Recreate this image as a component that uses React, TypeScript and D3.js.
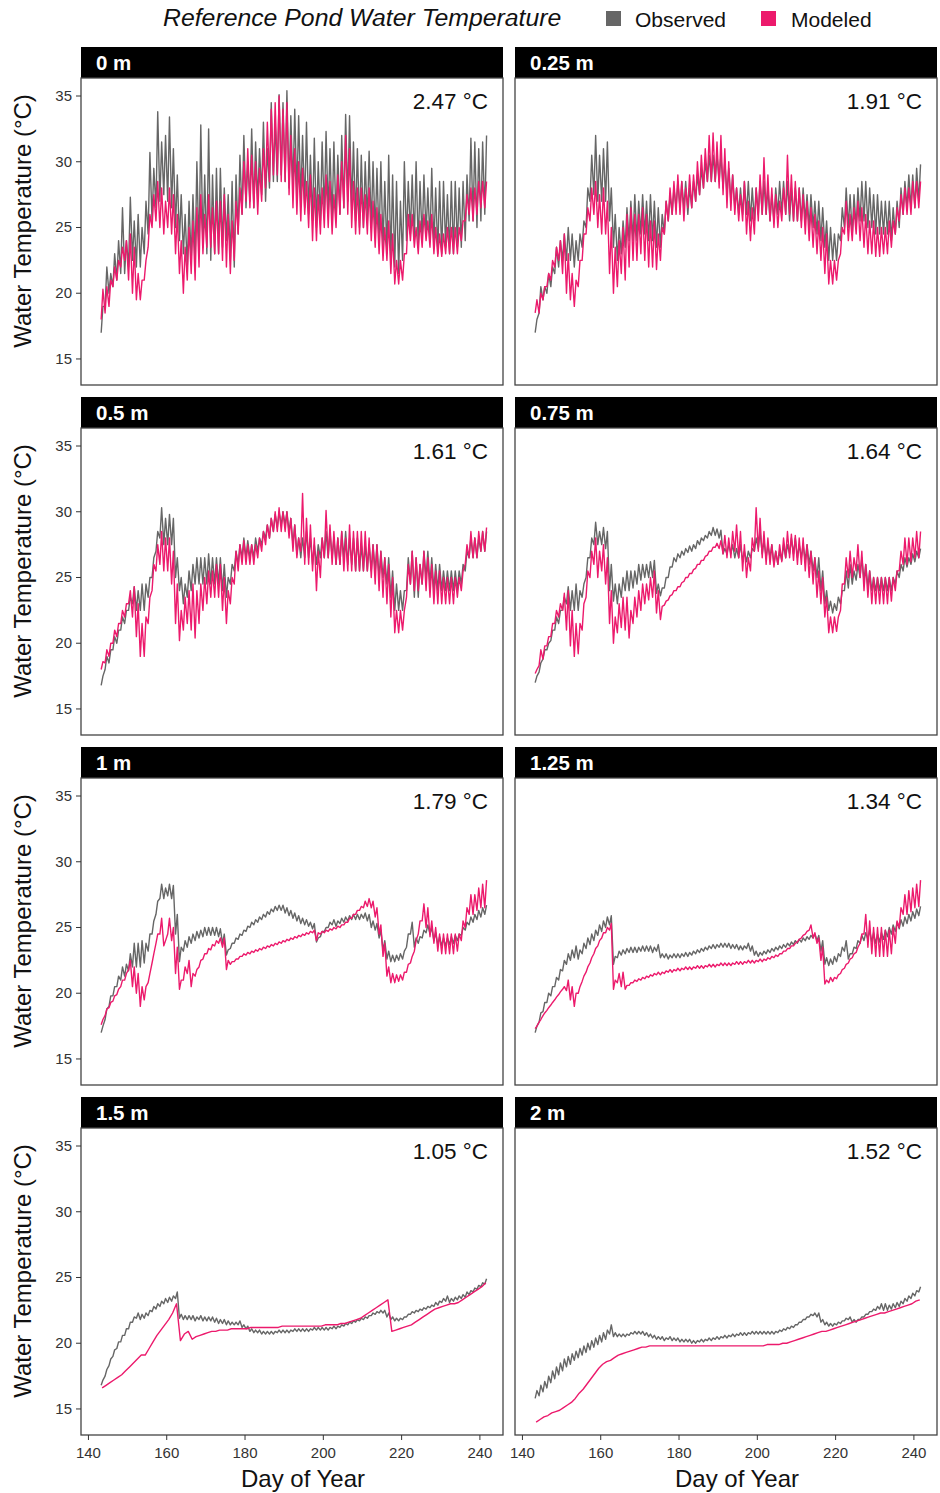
import * as d3 from 'd3';

// day-of-year of the first value in every series below (one value per day, 143..241)
const FIRST_DAY = 143;

const depthLabels = ['0 m', '0.25 m', '0.5 m', '0.75 m', '1 m', '1.25 m', '1.5 m', '2 m'];
const rmseLabels = ['2.47 °C', '1.91 °C', '1.61 °C', '1.64 °C', '1.79 °C', '1.34 °C', '1.05 °C', '1.52 °C'];
const xTicks = [140, 160, 180, 200, 220, 240];
const yTicks = [15, 20, 25, 30, 35];

// daily low / high, observed (grey) and modeled (pink)
const obs0Hi = [
  19, 22, 21.5, 23, 24, 26.5, 24, 27.3, 25.5, 26,
  25, 27, 30.7, 29.5, 33.8, 31.5, 32, 33.4, 31, 29,
  27.5, 26, 27, 27.5, 30, 32.8, 29, 32.5, 29, 29.5,
  29.5, 28, 27.5, 28.5, 29, 30.5, 32, 30, 32.5, 31.5,
  31, 33, 31, 34.5, 33, 35.1, 34.5, 35.4, 33.5, 34,
  33.5, 32, 33, 30.5, 31.8, 30, 31.5, 32.3, 31, 31.5,
  30.5, 32, 33.6, 33.5, 31.5, 31, 30.5, 30, 30.8, 30,
  29.5, 30, 28.5, 30.5, 29, 28.5, 27, 30, 28.5, 29,
  30, 28.5, 29, 28, 29.5, 28, 28.5, 28.5, 27.5, 28.5,
  28.5, 28, 28.5, 29, 31.8, 31.5, 31, 31.5, 32,
];
const obs0Lo = [
  17, 19, 20, 20.5, 21, 21.5, 21.5, 22, 22.5, 22,
  22, 23, 24.5, 25.5, 26.5, 27, 27.5, 27, 26.5, 25,
  24, 23, 22, 22.5, 22.5, 23, 23.5, 23, 22.5, 23,
  23, 23.5, 24, 22.5, 22, 24.5, 26, 26.5, 27, 26.5,
  27, 27.5, 27, 28, 28.5, 28.5, 29, 28.5, 28, 28,
  27.5, 27, 26.5, 26, 25.5, 25, 25.5, 26, 26, 25.5,
  25.5, 26, 26.5, 27, 26.5, 25.5, 25, 25, 25.5, 25,
  24.5, 24, 23.5, 23, 22.5, 22, 21.5, 22.5, 24, 24.5,
  24, 23.5, 24, 24.5, 24, 23.5, 23, 23, 23.5, 23,
  23, 23.5, 23.5, 24, 25.5, 25.5, 25, 25.5, 26,
];
const mod0Hi = [
  20.3, 20.5, 21, 22, 22.5, 23.5, 24, 24.5, 23.5, 21.5,
  21, 22.5, 26, 27.5, 28.5, 28, 27, 28, 27.5, 26,
  24, 23.5, 25, 25.5, 26.5, 27.5, 26, 27.5, 26.5, 27,
  27, 27.5, 26, 25.5, 27, 28, 30, 31, 30.5, 30,
  29.5, 31, 33, 34, 34.5, 35, 34, 34.5, 32, 31,
  30, 29.5, 28.5, 29, 28, 27.5, 28, 29, 28.5, 27.5,
  29, 30, 32, 31, 28.5, 28, 28, 27.5, 28, 27,
  26.5, 26, 25, 25.5, 24.5, 22.5, 22.5, 23, 26, 26,
  25, 25.5, 26, 25.5, 26, 25, 24.5, 24.5, 25, 25,
  25, 25, 25.5, 27.5, 28, 28, 28.5, 28.5, 28.5,
];
const mod0Lo = [
  18, 18.5, 19, 20.5, 21, 22, 22.5, 21, 20, 19.5,
  19.5, 21, 23.5, 25, 25.5, 25, 24.5, 25, 24.5, 23,
  21.5, 20, 21, 21.5, 21, 22, 23, 23.5, 23.5, 23,
  23, 22.5, 22, 21.5, 22.5, 24.5, 26, 27, 26.5, 26.5,
  26, 27, 28, 28.5, 29, 29, 28.5, 28.5, 27.5, 26.5,
  26, 25.5, 26, 25, 24, 24, 24.5, 25, 25, 24.5,
  25, 26, 26.5, 26, 25, 24.5, 24.5, 25, 24.5, 24,
  23.5, 23, 22.5, 22.5, 21.5, 20.7, 20.7, 21, 23, 24,
  23.5, 23, 23.5, 24, 23.5, 23, 22.8, 22.8, 23, 23,
  23, 23, 24, 25.5, 26, 25.5, 26, 26.5, 26.5,
];

const obs25Hi = [
  18, 20.5, 20.5, 21.5, 22, 23.5, 24, 24.5, 25, 24.5,
  24, 24.5, 25.5, 28, 30.5, 32, 30.5, 31, 31.5, 28,
  26, 25, 25.5, 26.5, 27, 27.5, 27, 27.5, 27, 27.5,
  27, 26.5, 26, 27, 27.5, 28, 28.5, 28.5, 28.5, 28,
  28.5, 29, 29.5, 30, 30.5, 30.5, 30.5, 30.5, 30, 29.5,
  29, 28, 28, 28.5, 28.5, 28, 28, 28.5, 28.5, 28,
  27.5, 28, 28.5, 28.5, 28.5, 28, 28, 28, 28, 27.5,
  27.5, 27, 27, 26.5, 25.5, 25, 24.5, 24.5, 26.5, 28,
  27.5, 27.5, 28, 28.5, 28.5, 28, 27.5, 27.5, 27, 27,
  27, 26.5, 27, 28, 28.5, 29, 29, 29.5, 29.8,
];
const obs25Lo = [
  17, 18.5, 19.5, 20, 20.5, 21.5, 22, 22.5, 22.5, 22.5,
  22, 22.5, 23.5, 25, 27, 27.5, 27, 27, 27, 25.5,
  23.5, 22.5, 23, 23.5, 24, 24, 24, 24.5, 24.5, 24,
  24, 23.5, 23.5, 24.5, 25.5, 26, 26.5, 26.5, 26.5, 26,
  26.5, 27, 27.5, 28, 28.5, 28.5, 28.5, 28.5, 28, 27.5,
  27, 26.5, 26, 26, 26, 25.5, 25.5, 26, 26, 26,
  25.5, 25.5, 26, 26, 26, 25.5, 25.5, 25.5, 25.5, 25.5,
  25, 25, 24.5, 24, 23.5, 22.5, 22.5, 22.5, 24, 25,
  25, 24.5, 25, 25.5, 25.5, 25, 25, 24.5, 24.5, 24.5,
  24.5, 24, 24.5, 25, 26, 26.5, 26.5, 26.5, 27,
];
const mod25Hi = [
  19.5, 20, 20.5, 21.5, 22.5, 23.5, 24, 24.5, 23, 21.5,
  21, 22.5, 24.5, 26.5, 28, 28.5, 27.5, 28, 27, 25,
  23.5, 24, 25, 26, 26.5, 26, 26, 26.5, 26, 25.5,
  25.5, 24.5, 25, 27, 28, 28.5, 29, 28.5, 28, 29,
  29, 30, 30.5, 31, 32, 32.2, 31.5, 32, 31, 30,
  29, 28, 27.5, 28.5, 27, 26.5, 28, 29, 30.3, 29,
  28, 27.5, 27, 28, 30.5, 29, 28.5, 28, 27.5, 27,
  26.5, 26, 25.5, 25, 24.5, 22.5, 22.5, 22.5, 25, 27,
  26, 26.5, 27, 26.5, 26, 25.5, 25.5, 25, 25, 25,
  25.5, 25.5, 26.5, 27.5, 28, 28, 28.5, 28.5, 28.5,
];
const mod25Lo = [
  18.5, 18.5, 19.5, 20.5, 21, 22, 22.5, 21.5, 20, 19.5,
  19, 20.5, 22.5, 24.5, 25.5, 26, 25, 24.5, 24.5, 21.5,
  20, 20.5, 21.5, 21, 22, 22.5, 22.5, 23, 22.5, 22,
  22, 21.8, 22.5, 24.5, 25.5, 26, 26, 26, 25.5, 26.5,
  26.5, 27, 27.5, 28, 28.5, 28.5, 28.5, 28, 27.5, 26.5,
  26.3, 26, 25.5, 25.5, 24.5, 24, 24.5, 25.5, 26, 26,
  25.5, 25, 25, 25.5, 26, 26, 25.5, 25.5, 25, 24.5,
  24, 23.5, 23, 22.5, 21.5, 20.7, 20.7, 21, 23, 24.5,
  24, 24, 24.5, 24, 23.5, 23, 23, 22.8, 22.8, 23,
  23, 23.5, 24.5, 25.5, 26, 26, 26, 26.5, 26.5,
];

const obs50Hi = [
  17.5, 19, 19.5, 20.5, 21, 22, 22.5, 23.5, 24.3, 24,
  24.5, 24.5, 25, 26.5, 28.5, 30.3, 29.5, 29.8, 29.5, 26.5,
  25, 24.5, 25.5, 26, 26.5, 26.5, 26.5, 26.8, 26.5, 26.5,
  26.5, 26, 25, 26, 27, 27.5, 28, 27.8, 27.5, 28,
  28, 28.5, 29, 29.5, 29.8, 30, 30, 30, 29.5, 29,
  28, 28, 28.5, 28, 27.5, 27.5, 28, 28.5, 28.5, 28,
  28, 28.5, 28.5, 28, 28, 28, 27.5, 27.5, 27.5, 27.5,
  27.5, 27, 26.5, 26.5, 25.5, 24.5, 24, 24, 26.5, 27,
  26.5, 26, 27, 27, 26.5, 26, 26, 25.5, 25.5, 25.5,
  25.5, 25.5, 26, 27, 28, 28, 28, 28.5, 28.5,
];
const obs50Lo = [
  16.8, 18, 18.5, 19.5, 20, 21, 21.5, 22.5, 23, 22.5,
  22.5, 22.5, 23.5, 25, 27, 28, 27.5, 27.5, 27.5, 25,
  24, 23, 23.5, 24, 24.5, 24.5, 24.5, 24.5, 24.5, 24.5,
  24.5, 24, 23.5, 24.5, 25.5, 26, 26.5, 26.5, 26.5, 26.5,
  27, 27.5, 28, 28, 28.5, 28.8, 29, 29, 28.5, 27.5,
  26.8, 26.5, 26.5, 26.5, 26, 26, 26.5, 26.5, 26.5, 26.5,
  26, 26, 26.5, 26, 26, 25.5, 25.5, 25.5, 25.5, 25.5,
  25.5, 25, 25, 24.5, 23.5, 22.5, 22.5, 22.5, 24, 24.5,
  23.5, 23.5, 24.5, 25, 24.5, 24, 24, 24, 24, 24,
  24, 24, 24.5, 25.5, 26.5, 26.5, 26.5, 27, 27,
];
const mod50Hi = [
  18.6, 19.5, 20, 21, 21.5, 22.5, 23, 24, 24.3, 23,
  21.5, 22, 23.5, 26, 27.5, 28.5, 28, 28, 27, 24.5,
  22.5, 23.5, 24, 24.5, 24, 24.5, 25, 25.5, 25.5, 26,
  26, 25, 24, 25, 27, 27.5, 27.8, 27.5, 27.5, 27.5,
  28, 28.5, 29, 29.5, 30, 30.3, 30, 30, 29.5, 29,
  28, 31.4, 29.5, 29, 28, 27, 28, 30.1, 29, 28.5,
  28, 28.5, 28, 29, 28.5, 28.5, 28.5, 28.5, 28, 27.5,
  27.5, 27, 26.5, 26, 25, 22.5, 22.5, 22.5, 26, 27,
  26.5, 26, 27, 26.5, 26, 25.5, 25.5, 25, 25, 25,
  25, 25, 25.5, 27.5, 28.5, 28, 28.5, 28.5, 28.8,
];
const mod50Lo = [
  18, 18.5, 19, 20, 20.5, 21.5, 22, 23, 22, 20.5,
  19, 19, 21.5, 24, 25.5, 26, 25.5, 25.5, 24.5, 21.5,
  20.2, 21, 21.5, 21, 20.4, 21.5, 22.5, 23, 23.5, 23.5,
  23.5, 22.5, 21.5, 23, 24.5, 25.5, 26, 26, 26, 26,
  26.5, 27, 27.5, 28, 28.5, 28.5, 28.5, 28.5, 28, 27,
  26.5, 27, 26, 26, 25.5, 24, 25, 26.5, 26.5, 26,
  26, 26, 25.5, 25.5, 25.5, 25.5, 25.5, 25.5, 25.5, 25,
  24.5, 24, 23.5, 23, 22, 20.8, 20.8, 21, 23.5, 24.5,
  24, 24, 24.5, 24, 23.5, 23, 23, 23, 23, 23,
  23, 23.5, 24, 26, 26.5, 26.5, 26.5, 27, 27,
];

const obs75Hi = [
  17.5, 18.5, 19.5, 20, 21, 22, 22.5, 23.5, 24.3, 24,
  24.5, 24, 24.5, 26.5, 28, 29.2, 28.5, 28.8, 28.5, 26,
  24.5, 24.5, 25, 25.5, 25.5, 25.5, 26, 26, 26, 26.2,
  26.3, 24.5, 24.2, 25, 25.8, 26.5, 26.8, 27, 27.2, 27.4,
  27.5, 27.8, 28, 28.2, 28.5, 28.8, 28.7, 28.6, 27.2, 27.5,
  27.5, 27.2, 27.5, 27, 27, 27.2, 28, 28.5, 27.8, 27.5,
  27.5, 27, 27, 27.5, 27.5, 28, 28, 27.5, 27.5, 27.5,
  27, 26.5, 26.5, 25.5, 24, 23.2, 23, 23.5, 24, 25.5,
  26, 25.5, 26, 26.5, 26, 25.5, 25, 25, 25, 25,
  25, 25, 25.5, 26, 26.5, 26.5, 26.8, 27, 27.2,
];
const obs75Lo = [
  17, 17.8, 18.8, 19.5, 20.2, 21, 21.5, 22.5, 23, 22.5,
  22.5, 22.5, 23.5, 25, 26.5, 27.5, 27.5, 27.5, 27.2, 24,
  23.2, 23, 23.5, 24, 24, 24.2, 24.5, 24.8, 25, 25,
  25, 23.8, 23.6, 24.2, 25, 25.8, 26.2, 26.5, 26.7, 26.9,
  27, 27.2, 27.5, 27.8, 28, 28.2, 28.2, 28, 26.8, 26.8,
  26.8, 26.5, 26.5, 26.3, 26.2, 26.5, 27, 27.2, 26.8, 26.5,
  26.5, 26, 26, 26.3, 26.5, 26.8, 26.8, 26.5, 26.5, 26.3,
  26, 25.5, 25, 24, 23, 22.5, 22.3, 22.5, 23, 24,
  24.2, 24.5, 24.8, 25, 24.8, 24.3, 24, 24, 24, 24,
  24, 24, 24.5, 25, 25.5, 25.8, 26, 26.2, 26.5,
];
const mod75Hi = [
  18, 19.5, 19.8, 20.5, 21.5, 22.5, 23, 23.8, 24, 22.5,
  21.5, 21.5, 23, 25.5, 27, 28, 27, 27.5, 26.5, 24,
  22, 23, 23.5, 23.5, 22.5, 23.5, 24, 24.5, 24.5, 25,
  25.5, 24, 22.8, 23.2, 23.6, 24, 24.3, 24.6, 25, 25.3,
  25.6, 26, 26.3, 26.6, 27, 27.3, 27.6, 27.8, 28.2, 28,
  28.5, 29, 28.5, 27.5, 26.5, 28, 30.3, 29.5, 28.5, 28,
  27.5, 27, 27.5, 28, 28.5, 28.3, 28.2, 28, 28, 27.5,
  27, 26.5, 25.5, 25, 23.5, 22, 22, 22, 24.5, 26.5,
  27, 26.5, 27.5, 27, 26, 25.5, 25, 25, 25, 25,
  25, 25, 25.5, 27, 28, 28, 28, 28.5, 28.5,
];
const mod75Lo = [
  17.7, 18.3, 18.8, 19.8, 20.5, 21.5, 22, 22.5, 21, 19.8,
  19, 19.2, 21, 23.5, 25, 26, 25, 25.5, 24.5, 21.5,
  20, 20.8, 21.2, 21, 20.4, 21.5, 22, 22.5, 23, 23.3,
  23.5, 22.3, 21.8, 22.9, 23.3, 23.7, 24, 24.3, 24.7, 25,
  25.3, 25.7, 26, 26.3, 26.7, 27, 27.3, 27.2, 26.8, 26.5,
  26.5, 27, 26.5, 25.5, 25, 25.5, 27, 27, 26.5, 26,
  26, 25.8, 26, 26.2, 26.5, 26.5, 26.3, 26, 26, 25.5,
  25, 24.5, 23.5, 23, 22, 20.8, 20.8, 20.9, 22.5, 24.5,
  25, 25, 25.5, 25, 24, 23.5, 23, 23, 23, 23,
  23, 23.2, 24, 25.5, 26, 26, 26.2, 26.5, 26.5,
];

const obs100Hi = [
  17.5, 18.8, 19.8, 20.5, 21.3, 22, 22.2, 23, 23.8, 23.8,
  24, 23.8, 24.5, 25.5, 27, 28.3, 28, 28.3, 28.2, 26,
  23.5, 24, 24.3, 24.5, 24.7, 24.8, 25, 25, 25, 25,
  24.9, 24.5, 23.3, 23.8, 24.2, 24.5, 24.8, 25.1, 25.4, 25.6,
  25.8, 26, 26.2, 26.4, 26.6, 26.7, 26.7, 26.5, 26.3, 26.1,
  25.9, 25.7, 25.6, 25.4, 25.3, 24.2, 24.7, 25, 25.4, 25.6,
  25.5, 25.7, 25.8, 25.9, 26, 26, 26, 26.1, 26, 25.5,
  25.3, 24.8, 24, 23.2, 22.9, 22.9, 23, 23.2, 24.5, 25.4,
  24.2, 24.3, 24.8, 25.2, 25, 24.6, 24.3, 24.2, 24.2, 24.3,
  24.4, 24.5, 25, 25.4, 25.8, 26, 26.3, 26.5, 26.7,
];
const obs100Lo = [
  17, 18, 19, 19.8, 20.5, 21, 21.3, 21.7, 22, 22,
  22, 22.3, 23.2, 24.5, 26, 27.2, 27.2, 27.4, 27.2, 24.5,
  22.4, 23.2, 23.5, 23.8, 24, 24.2, 24.3, 24.4, 24.4, 24.4,
  24.3, 23.8, 22.9, 23.4, 23.8, 24.1, 24.4, 24.7, 25, 25.2,
  25.4, 25.6, 25.8, 26, 26.2, 26.3, 26.3, 26.1, 25.9, 25.7,
  25.5, 25.3, 25.2, 25.1, 24.9, 23.9, 24.3, 24.7, 25, 25.2,
  25.1, 25.3, 25.4, 25.5, 25.6, 25.6, 25.6, 25.7, 25.5, 25,
  24.8, 24.2, 23.3, 22.6, 22.4, 22.4, 22.5, 22.6, 23.5, 24.5,
  23.5, 23.8, 24.2, 24.6, 24.5, 24, 23.7, 23.6, 23.6, 23.7,
  23.8, 24, 24.4, 24.8, 25.2, 25.4, 25.6, 25.8, 26,
];
const mod100Hi = [
  18, 18.8, 19.3, 19.8, 20.3, 21, 21.5, 22.5, 22, 21.5,
  20.5, 20.5, 21.5, 23, 24.5, 25.7, 24, 25.7, 25, 23.5,
  21, 22, 22.5, 21.5, 21.8, 22.5, 23, 23.4, 23.7, 24,
  24.2, 24.2, 22.5, 22.4, 22.6, 22.8, 23, 23.1, 23.2, 23.3,
  23.4, 23.5, 23.6, 23.7, 23.8, 23.9, 24, 24.1, 24.2, 24.3,
  24.4, 24.5, 24.6, 24.7, 24.8, 24.6, 24.7, 24.8, 24.9, 25,
  25.1, 25.2, 25.4, 25.7, 26, 26.3, 26.6, 27, 27.2, 27,
  26.5, 25.2, 23.8, 22, 21.5, 21.4, 21.4, 21.6, 22.2, 22.8,
  24, 25.5, 26.8, 26.5, 25.5, 25, 24.5, 24.5, 24.5, 24.5,
  24.5, 24.5, 25.5, 26.5, 27.5, 27.5, 28, 28.3, 28.6,
];
const mod100Lo = [
  17.6, 18.3, 18.9, 19.4, 19.9, 20.5, 21, 21.8, 20.5, 20,
  19, 19.5, 20.8, 22.3, 23.8, 24.5, 23.6, 24.5, 24, 21.5,
  20.3, 21, 21.5, 20.5, 21.3, 22, 22.6, 23, 23.3, 23.6,
  23.8, 23.5, 21.8, 22.2, 22.4, 22.6, 22.8, 22.9, 23, 23.1,
  23.2, 23.3, 23.4, 23.5, 23.6, 23.7, 23.8, 23.9, 24, 24.1,
  24.2, 24.3, 24.4, 24.5, 24.6, 24, 24.5, 24.6, 24.7, 24.8,
  24.9, 25, 25.2, 25.4, 25.7, 26, 26.3, 26.5, 26.6, 26.5,
  25.8, 24.5, 22.8, 21.3, 20.8, 20.8, 20.9, 21, 21.6, 22.3,
  23.2, 24.5, 25.5, 25, 24.3, 23.8, 23.2, 23, 23, 23,
  23, 23.2, 24, 25, 26, 26, 26.3, 26.5, 26.5,
];

const obs125Hi = [
  17.5, 18.5, 19.3, 20, 20.5, 21.2, 21.8, 22.5, 23, 23.3,
  23.6, 23.3, 23.8, 24.2, 24.5, 24.8, 25.2, 25.5, 25.8, 25.9,
  22.8, 23.2, 23.3, 23.4, 23.5, 23.5, 23.5, 23.6, 23.6, 23.6,
  23.5, 23.7, 23, 23, 22.9, 23, 23, 23, 23.1, 23.1,
  23.2, 23.3, 23.4, 23.5, 23.6, 23.7, 23.7, 23.8, 23.8, 23.8,
  23.7, 23.7, 23.6, 23.6, 23.8, 23.6, 23.2, 23.1, 23.2, 23.3,
  23.4, 23.5, 23.6, 23.7, 23.8, 23.9, 24, 24.1, 24.2, 24.3,
  24.4, 24.5, 24.4, 24, 22.7, 22.6, 22.8, 23, 23.5, 24,
  23, 23.5, 24, 24.4, 24.6, 24.8, 24.6, 24.5, 24.6, 24.8,
  25, 25.2, 25.4, 25.6, 25.8, 26, 26.2, 26.4, 26.6,
];
const obs125Lo = [
  17, 17.8, 18.6, 19.3, 19.8, 20.5, 21, 21.7, 22.2, 22.5,
  22.7, 22.6, 23, 23.4, 23.7, 24, 24.4, 24.7, 25, 25.2,
  22.2, 22.7, 22.9, 23, 23.1, 23.1, 23.1, 23.2, 23.2, 23.2,
  23.1, 23.2, 22.7, 22.7, 22.6, 22.7, 22.7, 22.7, 22.8, 22.8,
  22.9, 23, 23.1, 23.2, 23.3, 23.4, 23.4, 23.5, 23.5, 23.5,
  23.4, 23.4, 23.3, 23.3, 23.4, 23.2, 22.9, 22.8, 22.9, 23,
  23.1, 23.2, 23.3, 23.4, 23.5, 23.6, 23.7, 23.8, 23.9, 24,
  24.1, 24.2, 24, 23.2, 22.2, 22.1, 22.2, 22.4, 22.8, 23.2,
  22.6, 23, 23.4, 23.8, 24, 24.1, 23.9, 23.8, 23.9, 24.1,
  24.3, 24.5, 24.7, 24.9, 25.1, 25.3, 25.5, 25.7, 25.9,
];
const mod125Hi = [
  17.5, 18, 18.5, 18.9, 19.3, 19.7, 20.1, 20.5, 21, 20.5,
  20, 20.5, 21.3, 22, 22.7, 23.4, 24, 24.6, 25, 25.3,
  21, 21.5, 21.6, 20.6, 20.8, 21, 21.1, 21.2, 21.3, 21.4,
  21.5, 21.6, 21.6, 21.7, 21.8, 21.8, 21.9, 21.9, 22, 22,
  22, 22.1, 22.1, 22.1, 22.2, 22.2, 22.2, 22.3, 22.3, 22.3,
  22.3, 22.4, 22.4, 22.4, 22.5, 22.5, 22.5, 22.6, 22.6, 22.7,
  22.8, 22.9, 23, 23.2, 23.4, 23.6, 23.8, 24.1, 24.4, 24.7,
  25.2, 24.6, 24.2, 23.5, 21, 21.2, 21.2, 21.4, 21.8, 22.2,
  22.6, 23, 23.5, 24.5, 26, 25.5, 25, 25, 25, 24.8,
  24.8, 25, 25.5, 26.5, 27.5, 27.8, 28, 28.3, 28.6,
];
const mod125Lo = [
  17.3, 17.8, 18.3, 18.7, 19.1, 19.5, 19.9, 20.3, 20.2, 19.5,
  19, 20, 20.9, 21.6, 22.3, 23, 23.6, 24.2, 24.6, 24.8,
  20.3, 20.8, 20.5, 20.3, 20.6, 20.8, 20.9, 21, 21.1, 21.2,
  21.3, 21.4, 21.4, 21.5, 21.6, 21.6, 21.7, 21.7, 21.8, 21.8,
  21.8, 21.9, 21.9, 21.9, 22, 22, 22, 22.1, 22.1, 22.1,
  22.1, 22.2, 22.2, 22.2, 22.3, 22.3, 22.3, 22.4, 22.4, 22.5,
  22.6, 22.7, 22.8, 23, 23.2, 23.4, 23.6, 23.9, 24.2, 24.5,
  24.8, 24.2, 23.8, 22.5, 20.7, 20.8, 20.9, 21.1, 21.5, 21.9,
  22.3, 22.7, 23.1, 23.8, 24.5, 23.5, 23, 22.8, 22.8, 22.8,
  22.8, 23, 23.8, 25, 26, 26, 26.2, 26.5, 26.6,
];

const obs150Hi = [
  17.2, 18, 18.8, 19.5, 20.1, 20.6, 21.1, 21.6, 22, 22.3,
  22.2, 22.3, 22.5, 22.8, 23, 23.2, 23.4, 23.5, 23.6, 23.9,
  22.2, 22.1, 22.1, 22.1, 22, 22.1, 22, 22, 22, 21.9,
  21.8, 21.8, 21.7, 21.6, 21.6, 21.7, 21.4, 21.3, 21.1, 21,
  21, 20.9, 20.9, 20.9, 20.9, 21, 21, 21, 21, 21.1,
  21.1, 21.1, 21.1, 21.1, 21.2, 21.2, 21.2, 21.2, 21.2, 21.3,
  21.3, 21.4, 21.5, 21.6, 21.7, 21.8, 21.9, 22, 22.1, 22.3,
  22.4, 22.5, 22.5, 22.3, 22, 21.9, 21.9, 22, 22.2, 22.4,
  22.5, 22.6, 22.7, 22.8, 22.9, 23.1, 23.2, 23.4, 23.6, 23.4,
  23.5, 23.6, 23.7, 23.9, 24, 24.2, 24.4, 24.6, 24.9,
];
const obs150Lo = [
  16.8, 17.5, 18.3, 19, 19.6, 20.1, 20.6, 21.1, 21.6, 21.9,
  21.8, 21.9, 22.1, 22.4, 22.6, 22.8, 23, 23.1, 23.2, 23.4,
  21.9, 21.8, 21.8, 21.8, 21.7, 21.8, 21.7, 21.7, 21.7, 21.6,
  21.5, 21.5, 21.4, 21.4, 21.4, 21.4, 21.2, 21.1, 20.9, 20.8,
  20.8, 20.7, 20.7, 20.7, 20.7, 20.8, 20.8, 20.8, 20.8, 20.9,
  20.9, 20.9, 20.9, 20.9, 21, 21, 21, 21, 21, 21.1,
  21.1, 21.2, 21.3, 21.4, 21.5, 21.6, 21.7, 21.8, 21.9, 22.1,
  22.2, 22.3, 22.3, 22, 21.8, 21.7, 21.7, 21.8, 22, 22.2,
  22.3, 22.4, 22.5, 22.6, 22.7, 22.8, 22.9, 23.1, 23.2, 23.1,
  23.2, 23.3, 23.4, 23.5, 23.7, 23.9, 24.1, 24.3, 24.5,
];
const mod150 = [
  16.6, 16.8, 17, 17.2, 17.4, 17.6, 17.9, 18.2, 18.5, 18.8,
  19.1, 19.1, 19.6, 20.1, 20.6, 21, 21.4, 21.8, 22.3, 23,
  20.2, 20.7, 20.9, 20.3, 20.5, 20.6, 20.7, 20.8, 20.9, 20.9,
  21, 21, 21, 21.1, 21.1, 21.1, 21.1, 21.1, 21.2, 21.2,
  21.2, 21.2, 21.2, 21.2, 21.2, 21.2, 21.3, 21.3, 21.3, 21.3,
  21.3, 21.3, 21.3, 21.3, 21.3, 21.3, 21.3, 21.4, 21.4, 21.4,
  21.4, 21.5, 21.5, 21.6, 21.7, 21.8, 21.9, 22.1, 22.3, 22.5,
  22.7, 22.9, 23.1, 23.3, 20.9, 21, 21.1, 21.2, 21.3, 21.4,
  21.6, 21.8, 22, 22.2, 22.4, 22.6, 22.7, 22.8, 22.9, 23,
  23, 23.1, 23.3, 23.5, 23.7, 23.9, 24.1, 24.3, 24.6,
];

const obs200Hi = [
  16.4, 16.8, 17.1, 17.5, 17.9, 18.2, 18.5, 18.8, 19, 19.2,
  19.4, 19.6, 19.8, 20, 20.2, 20.4, 20.6, 20.8, 21, 21.4,
  20.8, 20.7, 20.7, 20.7, 20.8, 20.9, 20.9, 20.9, 20.8, 20.7,
  20.6, 20.5, 20.5, 20.4, 20.5, 20.4, 20.4, 20.3, 20.3, 20.3,
  20.2, 20.2, 20.3, 20.3, 20.4, 20.4, 20.5, 20.5, 20.6, 20.6,
  20.7, 20.7, 20.8, 20.8, 20.8, 20.9, 20.9, 20.9, 20.9, 20.9,
  20.9, 20.9, 21, 21.1, 21.2, 21.3, 21.4, 21.6, 21.8, 22,
  22.2, 22.3, 22.3, 21.8, 21.6, 21.5, 21.5, 21.6, 21.7, 21.9,
  22, 21.8, 21.8, 22, 22.2, 22.4, 22.6, 22.8, 23, 23,
  22.9, 23, 23.1, 23.2, 23.4, 23.6, 23.8, 24, 24.3,
];
const obs200Lo = [
  15.8, 16, 16.3, 16.6, 17, 17.3, 17.6, 17.9, 18.2, 18.4,
  18.7, 18.9, 19.1, 19.3, 19.5, 19.7, 19.9, 20.1, 20.3, 20.7,
  20.5, 20.5, 20.5, 20.5, 20.6, 20.7, 20.7, 20.7, 20.6, 20.5,
  20.4, 20.3, 20.3, 20.2, 20.3, 20.2, 20.2, 20.1, 20.1, 20.1,
  20, 20, 20.1, 20.1, 20.2, 20.2, 20.3, 20.3, 20.4, 20.4,
  20.5, 20.5, 20.6, 20.6, 20.6, 20.7, 20.7, 20.7, 20.7, 20.7,
  20.7, 20.7, 20.8, 20.9, 21, 21.1, 21.2, 21.4, 21.6, 21.8,
  22, 22.1, 22, 21.6, 21.4, 21.3, 21.3, 21.4, 21.5, 21.7,
  21.8, 21.6, 21.6, 21.8, 22, 22.2, 22.4, 22.5, 22.6, 22.5,
  22.5, 22.6, 22.7, 22.8, 23, 23.2, 23.4, 23.6, 23.9,
];
const mod200 = [
  14, 14.2, 14.4, 14.5, 14.7, 14.8, 14.9, 15.1, 15.3, 15.5,
  15.8, 16.2, 16.5, 16.9, 17.3, 17.7, 18.1, 18.4, 18.6, 18.7,
  18.9, 19.1, 19.2, 19.3, 19.4, 19.5, 19.6, 19.7, 19.7, 19.8,
  19.8, 19.8, 19.8, 19.8, 19.8, 19.8, 19.8, 19.8, 19.8, 19.8,
  19.8, 19.8, 19.8, 19.8, 19.8, 19.8, 19.8, 19.8, 19.8, 19.8,
  19.8, 19.8, 19.8, 19.8, 19.8, 19.8, 19.8, 19.8, 19.8, 19.9,
  19.9, 19.9, 19.9, 20, 20, 20.1, 20.2, 20.3, 20.4, 20.5,
  20.6, 20.7, 20.8, 20.9, 20.9, 21, 21.1, 21.2, 21.3, 21.4,
  21.5, 21.6, 21.7, 21.8, 21.9, 22, 22.1, 22.2, 22.3, 22.3,
  22.4, 22.5, 22.6, 22.7, 22.8, 22.9, 23, 23.2, 23.3,
];

const OBS_COLOR = '#666666';
const MOD_COLOR = '#EC1A6C';

const panels = [
  { obs: [obs0Lo, obs0Hi], mod: [mod0Lo, mod0Hi] },
  { obs: [obs25Lo, obs25Hi], mod: [mod25Lo, mod25Hi] },
  { obs: [obs50Lo, obs50Hi], mod: [mod50Lo, mod50Hi] },
  { obs: [obs75Lo, obs75Hi], mod: [mod75Lo, mod75Hi] },
  { obs: [obs100Lo, obs100Hi], mod: [mod100Lo, mod100Hi] },
  { obs: [obs125Lo, obs125Hi], mod: [mod125Lo, mod125Hi] },
  { obs: [obs150Lo, obs150Hi], mod: [mod150] },
  { obs: [obs200Lo, obs200Hi], mod: [mod200] },
].map((p, i) => ({ ...p, label: depthLabels[i], rmse: rmseLabels[i] }));

// layout
const colLeft = [81, 515];
const panelW = 422;
const plotTops = [78, 428, 778, 1128];
const plotH = 307;
const stripH = 31;

// one low and one high point per day (low early, high in the afternoon)
function toPoints(series: number[][]): [number, number][] {
  const [lo, hi] = series;
  const pts: [number, number][] = [];
  lo.forEach((v, i) => {
    const d = FIRST_DAY + i;
    if (hi) {
      pts.push([d + 0.25, v]);
      pts.push([d + 0.7, hi[i]]);
    } else {
      pts.push([d + 0.5, v]);
    }
  });
  return pts;
}

function Panel({ p, idx }: { p: any; idx: number }) {
  const col = idx % 2;
  const row = Math.floor(idx / 2);
  const left = colLeft[col];
  const top = plotTops[row];
  const x = d3.scaleLinear().domain([138.1, 245.9]).range([left, left + panelW]);
  const y = d3.scaleLinear().domain([13.02, 36.37]).range([top + plotH, top]);
  const line = d3
    .line<[number, number]>()
    .x((d) => x(d[0]))
    .y((d) => y(d[1]));

  return (
    <g>
      <rect x={left} y={top - stripH} width={panelW} height={stripH} fill="#000" />
      <text x={left + 15} y={top - 8} fill="#fff" fontSize={20.5} fontWeight="bold">
        {p.label}
      </text>
      <rect x={left} y={top} width={panelW} height={plotH} fill="#fff" stroke="#444" strokeWidth={1.3} />
      <path d={line(toPoints(p.obs)) || ''} fill="none" stroke={OBS_COLOR} strokeWidth={1.4} strokeLinejoin="round" />
      <path d={line(toPoints(p.mod)) || ''} fill="none" stroke={MOD_COLOR} strokeWidth={1.4} strokeLinejoin="round" />
      <text x={left + panelW - 15} y={top + 31} textAnchor="end" fontSize={22.5} fill="#111">
        {p.rmse}
      </text>
      {col === 0 &&
        yTicks.map((t) => (
          <g key={t}>
            <line x1={left - 5} x2={left} y1={y(t)} y2={y(t)} stroke="#333" strokeWidth={1} />
            <text x={left - 9} y={y(t) + 5} textAnchor="end" fontSize={15} fill="#333">
              {t}
            </text>
          </g>
        ))}
      {col === 0 && (
        <text
          transform={`translate(${31},${top + 143}) rotate(-90)`}
          textAnchor="middle"
          fontSize={24}
          fill="#111"
        >
          Water Temperature (°C)
        </text>
      )}
      {row === 3 &&
        xTicks.map((t) => (
          <g key={t}>
            <line x1={x(t)} x2={x(t)} y1={top + plotH} y2={top + plotH + 5} stroke="#333" strokeWidth={1} />
            <text x={x(t)} y={top + plotH + 23} textAnchor="middle" fontSize={15} fill="#333">
              {t}
            </text>
          </g>
        ))}
      {row === 3 && (
        <text x={left + panelW / 2 + 11} y={1487} textAnchor="middle" fontSize={24} fill="#111">
          Day of Year
        </text>
      )}
    </g>
  );
}

export default function App() {
  return (
    <svg
      width={940}
      height={1493}
      style={{ position: 'absolute', left: 0, top: 0, background: '#fff' }}
      fontFamily="'Liberation Sans', Arial, sans-serif"
    >
      <text x={163} y={26} fontSize={24.8} fontStyle="italic" fill="#111">
        Reference Pond Water Temperature
      </text>
      <rect x={606} y={11} width={15} height={15} fill={OBS_COLOR} />
      <text x={635} y={27} fontSize={21} fill="#111">
        Observed
      </text>
      <rect x={761} y={11} width={15} height={15} fill={MOD_COLOR} />
      <text x={791} y={27} fontSize={21} fill="#111">
        Modeled
      </text>
      {panels.map((p, i) => (
        <Panel key={i} p={p} idx={i} />
      ))}
    </svg>
  );
}
